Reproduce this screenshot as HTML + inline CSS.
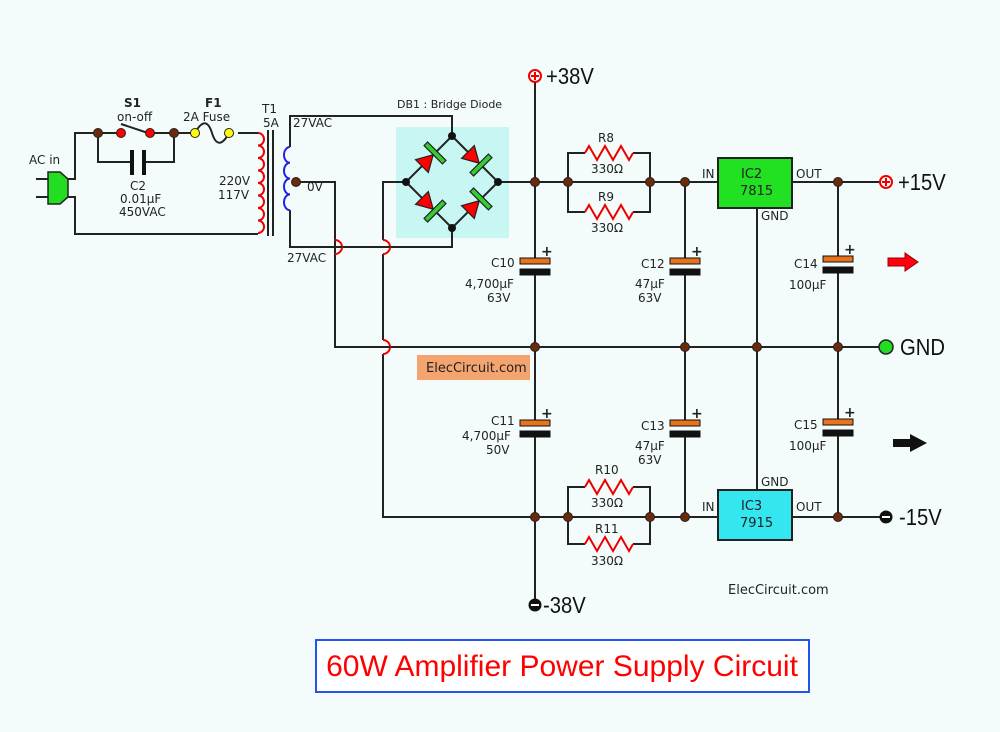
<!DOCTYPE html>
<html><head><meta charset="utf-8"><style>
html,body{margin:0;padding:0;background:#f4fcfb;}
svg{display:block;}
text{font-family:"DejaVu Sans","Liberation Sans",sans-serif;fill:#222;}
.b{font-family:"Liberation Sans",sans-serif;fill:#111;}
</style></head><body>
<svg width="1000" height="732" viewBox="0 0 1000 732" xmlns="http://www.w3.org/2000/svg">
<rect width="1000" height="732" fill="#f4fcfb"/>
<rect x="396" y="127" width="113" height="111" fill="#c8f6f2"/>
<rect x="417" y="355" width="113" height="25" fill="#f4a46e"/>
<g fill="none" stroke="#222" stroke-width="2">
<polyline points="68,179 75,179 75,133 258,133"/>
<polyline points="68,197 75,197 75,234 258,234"/>
<polyline points="98,133 98,162 132,162"/>
<polyline points="144,162 174,162 174,133"/>
<line x1="268" y1="130" x2="268" y2="236"/><line x1="273" y1="130" x2="273" y2="236"/>
<polyline points="290,147 290,116 452,116 452,136"/>
<polyline points="290,210 290,247 328,247"/><line x1="342" y1="247" x2="376" y2="247"/><polyline points="390,247 452,247 452,228"/>
<polyline points="296,182 335,182 335,347 376,347"/><line x1="390" y1="347" x2="886" y2="347"/>
<polyline points="406,182 383,182 383,240"/><line x1="383" y1="254" x2="383" y2="340"/><polyline points="383,354 383,517 718,517"/>
<polygon points="452,136 498,182 452,228 406,182"/>
<line x1="498" y1="182" x2="718" y2="182"/>
<line x1="535" y1="80" x2="535" y2="600"/>
<polyline points="585,153 568,153 568,212 585,212"/><polyline points="633,153 650,153 650,212 633,212"/>
<polyline points="585,487 568,487 568,544 585,544"/><polyline points="633,487 650,487 650,544 633,544"/>
<line x1="685" y1="182" x2="685" y2="517"/>
<line x1="757" y1="207" x2="757" y2="490"/>
<line x1="792" y1="182" x2="880" y2="182"/>
<line x1="792" y1="517" x2="880" y2="517"/>
<line x1="838" y1="182" x2="838" y2="517"/>
</g>
<g fill="#f4fcfb">
<rect x="520" y="263" width="30" height="9"/><rect x="670" y="263" width="30" height="9"/><rect x="823" y="261" width="30" height="9"/>
<rect x="520" y="425" width="30" height="9"/><rect x="670" y="425" width="30" height="9"/><rect x="823" y="424" width="30" height="9"/>
</g>
<g fill="none" stroke="#e00" stroke-width="2">
<path d="M335,240 A7,7 0 0 1 335,254"/>
<path d="M383,240 A7,7 0 0 1 383,254"/>
<path d="M383,340 A7,7 0 0 1 383,354"/>
<line x1="328" y1="247" x2="342" y2="247" stroke="#222"/>
<line x1="376" y1="247" x2="390" y2="247" stroke="#222"/>
<line x1="376" y1="347" x2="390" y2="347" stroke="#222"/>
</g>
<line x1="121" y1="133" x2="238" y2="133" stroke="#f4fcfb" stroke-width="3"/>
<line x1="98" y1="133" x2="121" y2="133" stroke="#222" stroke-width="2"/>
<line x1="150" y1="133" x2="195" y2="133" stroke="#222" stroke-width="2"/>
<line x1="121" y1="124" x2="148" y2="133" stroke="#222" stroke-width="2"/>
<line x1="195" y1="133" x2="229" y2="133" stroke="#f4fcfb" stroke-width="3"/>
<path d="M195,133 C202,120 208,120 212,133 C216,146 222,146 229,133" fill="none" stroke="#222" stroke-width="2"/>
<rect x="130" y="150" width="4" height="25" fill="#111"/><rect x="142" y="150" width="4" height="25" fill="#111"/>
<path d="M258,133 a6,6.25 0 0 1 0,12.5 a6,6.25 0 0 1 0,12.5 a6,6.25 0 0 1 0,12.5 a6,6.25 0 0 1 0,12.5 a6,6.25 0 0 1 0,12.5 a6,6.25 0 0 1 0,12.5 a6,6.25 0 0 1 0,12.5 a6,6.25 0 0 1 0,12.5" fill="none" stroke="#e00" stroke-width="2"/>
<path d="M290,147 a6,7.9 0 0 0 0,15.8 a6,7.9 0 0 0 0,15.8 a6,7.9 0 0 0 0,15.8 a6,7.9 0 0 0 0,15.8" fill="none" stroke="#22d" stroke-width="2"/>
<line x1="36" y1="179" x2="50" y2="179" stroke="#222" stroke-width="2"/>
<line x1="36" y1="197" x2="50" y2="197" stroke="#222" stroke-width="2"/>
<path d="M48,172 L60,172 L68,179 L68,197 L60,204 L48,204 Z" fill="#22dd22" stroke="#222" stroke-width="1.5"/>
<g stroke="#222" stroke-width="1.2">
<g transform="translate(429,159) rotate(-45)"><polygon points="-10,-9 -10,9 6,0" fill="#f00"/><rect x="6" y="-13" width="5" height="26" fill="#3c3"/></g>
<g transform="translate(475,159) rotate(45)"><polygon points="-10,-9 -10,9 6,0" fill="#f00"/><rect x="6" y="-13" width="5" height="26" fill="#3c3"/></g>
<g transform="translate(429,205) rotate(45)"><polygon points="-10,-9 -10,9 6,0" fill="#f00"/><rect x="6" y="-13" width="5" height="26" fill="#3c3"/></g>
<g transform="translate(475,205) rotate(-45)"><polygon points="-10,-9 -10,9 6,0" fill="#f00"/><rect x="6" y="-13" width="5" height="26" fill="#3c3"/></g>
</g>
<g fill="#111"><circle cx="452" cy="136" r="4"/><circle cx="498" cy="182" r="4"/><circle cx="452" cy="228" r="4"/><circle cx="406" cy="182" r="4"/></g>
<g fill="none" stroke="#e00" stroke-width="2">
<path d="M585,153 l4,-7 l8,14 l8,-14 l8,14 l8,-14 l8,14 l4,-7"/>
<path d="M585,212 l4,-7 l8,14 l8,-14 l8,14 l8,-14 l8,14 l4,-7"/>
<path d="M585,487 l4,-7 l8,14 l8,-14 l8,14 l8,-14 l8,14 l4,-7"/>
<path d="M585,544 l4,-7 l8,14 l8,-14 l8,14 l8,-14 l8,14 l4,-7"/>
</g>
<g stroke="#111" stroke-width="1">
<rect x="520" y="258" width="30" height="6" fill="#e8731a"/><rect x="520" y="269" width="30" height="6" fill="#111"/>
<rect x="670" y="258" width="30" height="6" fill="#e8731a"/><rect x="670" y="269" width="30" height="6" fill="#111"/>
<rect x="823" y="256" width="30" height="6" fill="#e8731a"/><rect x="823" y="267" width="30" height="6" fill="#111"/>
<rect x="520" y="420" width="30" height="6" fill="#e8731a"/><rect x="520" y="431" width="30" height="6" fill="#111"/>
<rect x="670" y="420" width="30" height="6" fill="#e8731a"/><rect x="670" y="431" width="30" height="6" fill="#111"/>
<rect x="823" y="419" width="30" height="6" fill="#e8731a"/><rect x="823" y="430" width="30" height="6" fill="#111"/>
</g>
<g font-size="14" font-weight="bold"><text x="541" y="256">+</text><text x="691" y="256">+</text><text x="844" y="254">+</text><text x="541" y="418">+</text><text x="691" y="418">+</text><text x="844" y="417">+</text></g>
<rect x="718" y="158" width="74" height="50" fill="#22e022" stroke="#222" stroke-width="2"/>
<rect x="718" y="490" width="74" height="50" fill="#33e6f0" stroke="#222" stroke-width="2"/>
<g fill="#6b2a0a" stroke="#222" stroke-width="1">
<circle cx="98" cy="133" r="4.5"/><circle cx="174" cy="133" r="4.5"/><circle cx="296" cy="182" r="4.5"/>
<circle cx="535" cy="182" r="4.5"/><circle cx="568" cy="182" r="4.5"/><circle cx="650" cy="182" r="4.5"/><circle cx="685" cy="182" r="4.5"/><circle cx="838" cy="182" r="4.5"/>
<circle cx="535" cy="347" r="4.5"/><circle cx="685" cy="347" r="4.5"/><circle cx="757" cy="347" r="4.5"/><circle cx="838" cy="347" r="4.5"/>
<circle cx="535" cy="517" r="4.5"/><circle cx="568" cy="517" r="4.5"/><circle cx="650" cy="517" r="4.5"/><circle cx="685" cy="517" r="4.5"/><circle cx="838" cy="517" r="4.5"/>
</g>
<g stroke="#222" stroke-width="1"><circle cx="121" cy="133" r="4.5" fill="#f00"/><circle cx="150" cy="133" r="4.5" fill="#f00"/><circle cx="195" cy="133" r="4.5" fill="#ff0"/><circle cx="229" cy="133" r="4.5" fill="#ff0"/></g>
<circle cx="535" cy="76" r="6" fill="#fff" stroke="#e00" stroke-width="2"/><path d="M531,76h8M535,72v8" stroke="#e00" stroke-width="2"/>
<circle cx="886" cy="182" r="6" fill="#fff" stroke="#e00" stroke-width="2"/><path d="M882,182h8M886,178v8" stroke="#e00" stroke-width="2"/>
<circle cx="886" cy="347" r="7" fill="#2d2" stroke="#222" stroke-width="1.5"/>
<circle cx="886" cy="517" r="6.5" fill="#111"/><path d="M882,517h8" stroke="#fff" stroke-width="2"/>
<circle cx="535" cy="605" r="6.5" fill="#111"/><path d="M531,605h8" stroke="#fff" stroke-width="2"/>
<polygon points="888,258 905,258 905,253 918,262 905,271 905,266 888,266" fill="#f01" stroke="#900" stroke-width="1"/>
<polygon points="893,439 910,439 910,434 927,443 910,452 910,447 893,447" fill="#111"/>
<g font-size="12">
<text x="29" y="164">AC in</text>
<text x="124" y="107" font-weight="bold">S1</text><text x="117" y="121">on-off</text>
<text x="205" y="107" font-weight="bold">F1</text><text x="183" y="121">2A Fuse</text>
<text x="262" y="113">T1</text><text x="263" y="127">5A</text>
<text x="293" y="127">27VAC</text><text x="287" y="262">27VAC</text>
<text x="307" y="191">0V</text>
<text x="219" y="185">220V</text><text x="218" y="199">117V</text>
<text x="130" y="190">C2</text><text x="120" y="203">0.01μF</text><text x="119" y="216">450VAC</text>
<text x="397" y="108" font-size="11">DB1 : Bridge Diode</text>
<text x="598" y="142">R8</text><text x="591" y="173">330Ω</text>
<text x="598" y="201">R9</text><text x="591" y="232">330Ω</text>
<text x="595" y="474">R10</text><text x="591" y="507">330Ω</text>
<text x="595" y="533">R11</text><text x="591" y="565">330Ω</text>
<text x="491" y="267">C10</text><text x="465" y="288">4,700μF</text><text x="487" y="302">63V</text>
<text x="491" y="425">C11</text><text x="462" y="440">4,700μF</text><text x="486" y="454">50V</text>
<text x="641" y="268">C12</text><text x="635" y="288">47μF</text><text x="638" y="302">63V</text>
<text x="641" y="430">C13</text><text x="635" y="450">47μF</text><text x="638" y="464">63V</text>
<text x="794" y="268">C14</text><text x="789" y="289">100μF</text>
<text x="794" y="429">C15</text><text x="789" y="450">100μF</text>
<text x="702" y="178">IN</text><text x="796" y="178">OUT</text><text x="761" y="220">GND</text>
<text x="702" y="511">IN</text><text x="796" y="511">OUT</text><text x="761" y="486">GND</text>
<text x="741" y="178" font-size="13">IC2</text><text x="740" y="195" font-size="13">7815</text>
<text x="741" y="510" font-size="13">IC3</text><text x="740" y="527" font-size="13">7915</text>
<text x="426" y="372" font-size="13">ElecCircuit.com</text>
<text x="728" y="594" font-size="13">ElecCircuit.com</text>
</g>
<g font-size="23">
<text x="546" y="84" class="b" transform="translate(546,0) scale(0.88,1) translate(-546,0)">+38V</text>
<text x="898" y="190" class="b" transform="translate(898,0) scale(0.88,1) translate(-898,0)">+15V</text>
<text x="900" y="355" class="b" transform="translate(900,0) scale(0.88,1) translate(-900,0)">GND</text>
<text x="899" y="525" class="b" transform="translate(899,0) scale(0.88,1) translate(-899,0)">-15V</text>
<text x="543" y="613" class="b" transform="translate(543,0) scale(0.88,1) translate(-543,0)">-38V</text>
</g>
<rect x="316" y="640" width="493" height="52" fill="#fff" stroke="#2255ee" stroke-width="2"/>
<text x="562" y="676" text-anchor="middle" style="font-family:'Liberation Sans',sans-serif;font-size:30px;fill:#f00">60W Amplifier Power Supply Circuit</text>
</svg>
</body></html>
